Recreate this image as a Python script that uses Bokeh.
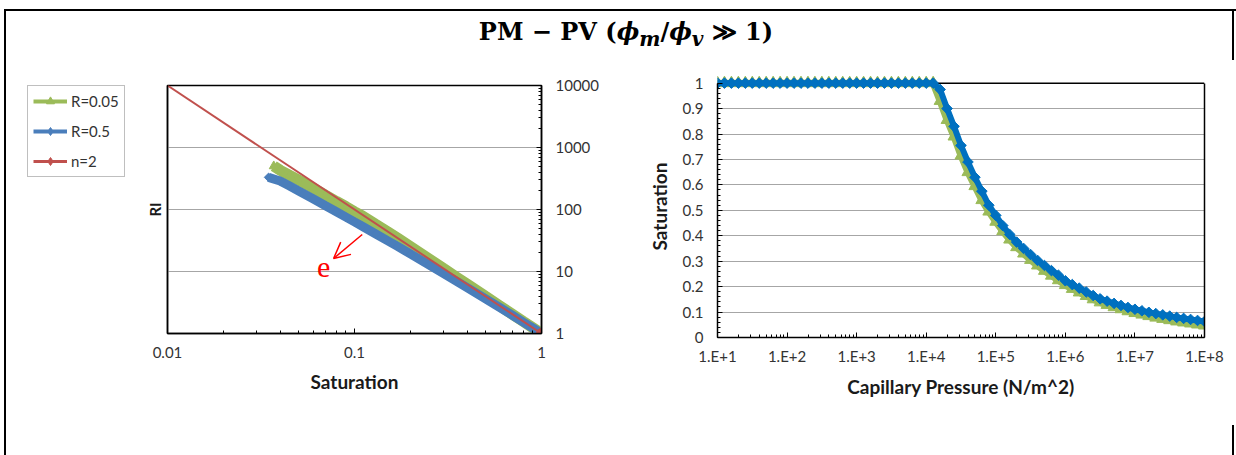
from bokeh.plotting import figure
from bokeh.models import (Div, LogAxis, LinearAxis, FixedTicker, CustomJSTickFormatter, Range1d,
                          Legend, LegendItem, ColumnDataSource, Label, Arrow, OpenHead, Span)
from bokeh.layouts import column, row
from bokeh.embed import file_html
from bokeh.resources import INLINE

# ---------------- data ----------------
# Left chart: resistivity index vs saturation
sat_r005 = [1.0, 0.9, 0.8, 0.7, 0.6, 0.5, 0.4, 0.35, 0.3, 0.25, 0.2, 0.17, 0.15, 0.13, 0.11,
            0.1, 0.09, 0.08, 0.07, 0.06, 0.05, 0.045, 0.04, 0.037]
ri_r005 = [1.0, 1.235, 1.56, 2.04, 2.78, 4.0, 6.25, 8.16, 11.1, 16.0, 25.0, 34.6, 44.0, 57.5, 79.0,
           92.0, 111, 135, 170, 222, 300, 355, 430, 500]
sat_r05 = [1.0, 0.9, 0.8, 0.7, 0.6, 0.5, 0.4, 0.35, 0.3, 0.25, 0.2, 0.17, 0.15, 0.13, 0.11,
           0.1, 0.09, 0.08, 0.07, 0.06, 0.05, 0.045, 0.04, 0.0347]
ri_r05 = [1.0, 1.22, 1.52, 1.96, 2.61, 3.66, 5.5, 7.01, 9.25, 12.8, 19.0, 25.4, 31.5, 40.3, 53.7,
          63.1, 75.5, 92.0, 115, 149, 201, 239, 289, 330]
sat_n2 = [0.01, 1.0]
ri_n2 = [10000, 1.0]

# Right chart: saturation vs capillary pressure (log10 of Pc in N/m^2)
log_pc = [1.0, 1.1, 1.2, 1.3, 1.4, 1.5, 1.6, 1.7, 1.8, 1.9,
          2.0, 2.1, 2.2, 2.3, 2.4, 2.5, 2.6, 2.7, 2.8, 2.9,
          3.0, 3.1, 3.2, 3.3, 3.4, 3.5, 3.6, 3.7, 3.8, 3.9,
          4.0, 4.1, 4.2, 4.3, 4.4, 4.5, 4.6, 4.7, 4.8, 4.9,
          5.0, 5.1, 5.2, 5.3, 5.4, 5.5, 5.6, 5.7, 5.8, 5.9,
          6.0, 6.1, 6.2, 6.3, 6.4, 6.5, 6.6, 6.7, 6.8, 6.9,
          7.0, 7.1, 7.2, 7.3, 7.4, 7.5, 7.6, 7.7, 7.8, 7.9, 8.0]
sw_r05 = [1.0, 1.0, 1.0, 1.0, 1.0, 1.0, 1.0, 1.0, 1.0, 1.0,
          1.0, 1.0, 1.0, 1.0, 1.0, 1.0, 1.0, 1.0, 1.0, 1.0,
          1.0, 1.0, 1.0, 1.0, 1.0, 1.0, 1.0, 1.0, 1.0, 1.0,
          1.0, 1.0, 0.975, 0.90, 0.83, 0.755, 0.69, 0.63, 0.575, 0.52,
          0.48, 0.44, 0.405, 0.375, 0.35, 0.326, 0.303, 0.283, 0.263, 0.245,
          0.223, 0.208, 0.194, 0.179, 0.165, 0.152, 0.143, 0.134, 0.126, 0.118,
          0.111, 0.105, 0.099, 0.094, 0.089, 0.084, 0.079, 0.075, 0.071, 0.067, 0.063]
sw_r005 = [1.0, 1.0, 1.0, 1.0, 1.0, 1.0, 1.0, 1.0, 1.0, 1.0,
           1.0, 1.0, 1.0, 1.0, 1.0, 1.0, 1.0, 1.0, 1.0, 1.0,
           1.0, 1.0, 1.0, 1.0, 1.0, 1.0, 1.0, 1.0, 1.0, 1.0,
           1.0, 1.0, 0.93, 0.855, 0.79, 0.715, 0.65, 0.595, 0.54, 0.495,
           0.455, 0.418, 0.385, 0.355, 0.33, 0.305, 0.283, 0.262, 0.243, 0.225,
           0.206, 0.191, 0.177, 0.163, 0.150, 0.138, 0.128, 0.119, 0.111, 0.103,
           0.096, 0.090, 0.084, 0.078, 0.073, 0.068, 0.063, 0.059, 0.055, 0.051, 0.047]
pc = [10 ** v for v in log_pc]

x_ticks_left = [0.01, 0.1, 1]
y_ticks_left = [1, 10, 100, 1000, 10000]
x_ticks_right = [1e1, 1e2, 1e3, 1e4, 1e5, 1e6, 1e7, 1e8]
y_ticks_right = [0, 0.1, 0.2, 0.3, 0.4, 0.5, 0.6, 0.7, 0.8, 0.9, 1.0]
legend_labels = ["R=0.05", "R=0.5", "n=2"]

GREEN = "#9BBB59"
BLUE_L = "#4A7EBB"
BLUE_R = "#0070C0"
RED = "#C0504D"
GRID = "#A6A6A6"
FONT = "Lato"
TICK_COLOR = "#333333"

def style_axis(ax, label_size="19px"):
    ax.major_label_text_font = FONT
    ax.major_label_text_font_size = "15px"
    ax.major_label_text_color = TICK_COLOR
    ax.axis_label_text_font = FONT
    ax.axis_label_text_font_size = label_size
    ax.axis_label_text_font_style = "bold"
    ax.axis_label_text_color = "#1a1a1a"
    ax.axis_line_color = "black"
    ax.axis_line_width = 1.5
    ax.major_tick_line_color = "black"
    ax.minor_tick_line_color = "black"
    ax.major_tick_out = 0
    ax.minor_tick_out = 0
    ax.major_tick_in = 5
    ax.minor_tick_in = 3

# ---------------- legend panel (left of the left chart) ----------------
lf = figure(width=134, height=395, x_axis_location=None, y_axis_location=None,
            x_range=Range1d(0, 1), y_range=Range1d(0, 1), frame_align=False,
            output_backend="svg", toolbar_location=None, title=None, min_border=0)
lf.outline_line_color = None
lf.grid.visible = False
# placeholder renderers (their points lie outside the visible range) used only for legend glyphs
off = dict(x=[5.0, 6.0], y=[5.0, 6.0])
lg_g_l = lf.line(x=off["x"], y=off["y"], line_color=GREEN, line_width=4)
lg_g_m = lf.scatter(x=off["x"], y=off["y"], marker="triangle", size=9, color=GREEN)
lg_b_l = lf.line(x=off["x"], y=off["y"], line_color=BLUE_L, line_width=4)
lg_b_m = lf.scatter(x=off["x"], y=off["y"], marker="diamond", size=11, color=BLUE_L)
lg_r_l = lf.line(x=off["x"], y=off["y"], line_color=RED, line_width=3)
lg_r_m = lf.scatter(x=off["x"], y=off["y"], marker="diamond", size=11, color=RED)
legend = Legend(items=[LegendItem(label=legend_labels[0], renderers=[lg_g_l, lg_g_m]),
                       LegendItem(label=legend_labels[1], renderers=[lg_b_l, lg_b_m]),
                       LegendItem(label=legend_labels[2], renderers=[lg_r_l, lg_r_m])],
                location=(19, 278))
legend.label_text_font = FONT
legend.label_text_font_size = "15px"
legend.label_text_color = TICK_COLOR
legend.glyph_width = 34
legend.glyph_height = 20
legend.label_height = 20
legend.spacing = 10
legend.padding = 5
legend.margin = 0
legend.label_standoff = 4
legend.border_line_color = "#7F7F7F"
legend.border_line_width = 1
legend.background_fill_alpha = 1
lf.add_layout(legend)

# ---------------- left chart ----------------
pl = figure(width=478, height=395, x_axis_type="log", y_axis_type="log",
            x_range=(0.01, 1), y_range=(1, 10000), y_axis_location="left", frame_align=False,
            output_backend="svg", toolbar_location=None, title=None,
            min_border_left=25, min_border_right=79, min_border_top=25, min_border_bottom=122)
pl.outline_line_color = "black"
pl.outline_line_width = 1.5
pl.xgrid.visible = False

minor_x_l = [m * 10.0 ** e for e in (-2, -1) for m in range(2, 10)]
minor_y_l = [m * 10.0 ** e for e in (0, 1, 2, 3) for m in range(2, 10)]
fmt_plain = CustomJSTickFormatter(code="return String(tick);")

xa = pl.xaxis[0]
xa.ticker = FixedTicker(ticks=x_ticks_left, minor_ticks=minor_x_l)
xa.formatter = fmt_plain
xa.axis_label = "Saturation"
style_axis(xa)
xa.major_label_standoff = 13
xa.axis_label_standoff = 9

ya = pl.yaxis[0]
ya.ticker = FixedTicker(ticks=[])
ya.axis_label = "RI"
style_axis(ya, "15px")
ya.major_label_text_font_size = "0px"
ya.major_tick_in = 0
ya.minor_tick_in = 0
ya.axis_label_standoff = 4

yr = LogAxis(ticker=FixedTicker(ticks=y_ticks_left, minor_ticks=minor_y_l), formatter=fmt_plain)
style_axis(yr)
yr.major_label_standoff = 14
pl.add_layout(yr, "right")

pl.ygrid.ticker = FixedTicker(ticks=[10, 100, 1000])
pl.ygrid.grid_line_color = GRID
pl.ygrid.grid_line_width = 1

src_g = ColumnDataSource(dict(x=sat_r005, y=ri_r005))
src_b = ColumnDataSource(dict(x=sat_r05, y=ri_r05))
src_r = ColumnDataSource(dict(x=sat_n2, y=ri_n2))
pl.line("x", "y", source=src_g, line_color=GREEN, line_width=11)
pl.scatter("x", "y", source=src_g, marker="triangle", size=9, color=GREEN)
pl.line("x", "y", source=src_b, line_color=BLUE_L, line_width=9)
pl.scatter("x", "y", source=src_b, marker="square", angle=0.785, size=6, color=BLUE_L)
pl.line("x", "y", source=src_r, line_color=RED, line_width=2)
pl.scatter(x=[sat_n2[-1]], y=[ri_n2[-1]], marker="circle", size=10, color=RED)

pl.add_layout(Arrow(x_start=0.11, y_start=39.5, x_end=0.0773, y_end=16.2,
                    line_color="red", line_width=1.5,
                    end=OpenHead(size=16, line_color="red", line_width=1.5)))
pl.add_layout(Label(x=0.0683, y=11.6, text="e", text_color="red", text_font="Liberation Serif",
                    text_font_size="30px", text_align="center", text_baseline="middle"))

# ---------------- right chart ----------------
pr = figure(width=610, height=395, x_axis_type="log",
            x_range=(10, 1e8), y_range=(0, 1.03), frame_align=False,
            output_backend="svg", toolbar_location=None, title=None,
            min_border_left=97, min_border_right=26, min_border_top=15, min_border_bottom=118)
pr.outline_line_color = None
pr.xgrid.visible = False

minor_x_r = [m * 10.0 ** e for e in range(1, 8) for m in range(2, 10)]
xb = pr.xaxis[0]
xb.ticker = FixedTicker(ticks=x_ticks_right, minor_ticks=minor_x_r)
xb.formatter = CustomJSTickFormatter(code="return '1.E+' + Math.round(Math.log10(tick));")
xb.axis_label = "Capillary Pressure (N/m^2)"
style_axis(xb)
xb.major_label_standoff = 9
xb.axis_label_standoff = 7

yb = pr.yaxis[0]
yb.ticker = FixedTicker(ticks=y_ticks_right, minor_ticks=[i / 50 for i in range(51)])
yb.formatter = CustomJSTickFormatter(code="return String(Math.round(tick*10)/10);")
yb.axis_label = "Saturation"
yb.bounds = (0, 1)
style_axis(yb)
yb.major_label_standoff = 14
yb.axis_label_standoff = 9

yb_r = LinearAxis(ticker=FixedTicker(ticks=[]), bounds=(0, 1))
yb_r.axis_line_color = "black"
yb_r.axis_line_width = 1.5
yb_r.major_label_text_font_size = "0px"
yb_r.major_tick_out = 0
yb_r.minor_tick_out = 0
pr.add_layout(yb_r, "right")

pr.add_layout(Span(location=1.0, dimension="width", line_color="black", line_width=1.5,
                   level="underlay"))
pr.ygrid.ticker = FixedTicker(ticks=[0.1, 0.2, 0.3, 0.4, 0.5, 0.6, 0.7, 0.8, 0.9])
pr.ygrid.grid_line_color = GRID
pr.ygrid.grid_line_width = 1

src_rg = ColumnDataSource(dict(x=pc, y=sw_r005))
src_rb = ColumnDataSource(dict(x=pc, y=sw_r05))
pr.line("x", "y", source=src_rg, line_color=GREEN, line_width=7)
pr.scatter("x", "y", source=src_rg, marker="triangle", size=12, color=GREEN)
pr.line("x", "y", source=src_rb, line_color=BLUE_R, line_width=6)
pr.scatter("x", "y", source=src_rb, marker="square", angle=0.785, size=7.5, color=BLUE_R)

# ---------------- frame and title ----------------
title_html = (
    '<div style="position:relative;width:1236px;height:60px;">'
    '<div style="position:absolute;left:4px;top:9px;width:1232px;height:2px;background:#000"></div>'
    '<div style="position:absolute;left:4px;top:9px;width:2px;height:51px;background:#000"></div>'
    '<div style="position:absolute;left:1232px;top:9px;width:2px;height:51px;background:#000"></div>'
    '<div style="position:absolute;left:8px;top:14px;width:1236px;text-align:center;'
    "font-family:'DejaVu Serif';font-weight:bold;font-size:24px;line-height:36px;color:#000;\">"
    'PM − PV (<i>ϕ<sub>m</sub></i>/<i>ϕ<sub>v</sub></i> ≫ 1)</div></div>'
)
title_div = Div(text=title_html, width=1236, height=60, margin=(0, 0, 0, 0))
left_edge = Div(text='<div style="position:relative;width:8px;height:395px;">'
                     '<div style="position:absolute;left:4px;top:0;width:2px;height:395px;background:#000"></div></div>',
                width=8, height=395, margin=(0, 0, 0, 0))
right_edge = Div(text='<div style="position:relative;width:6px;height:395px;">'
                      '<div style="position:absolute;left:2px;top:365px;width:2px;height:30px;background:#000"></div></div>',
                 width=6, height=395, margin=(0, 0, 0, 0))

page = column(title_div, row(left_edge, lf, pl, pr, right_edge, spacing=0), spacing=0)

open("out.html", "w").write(file_html(page, INLINE))
